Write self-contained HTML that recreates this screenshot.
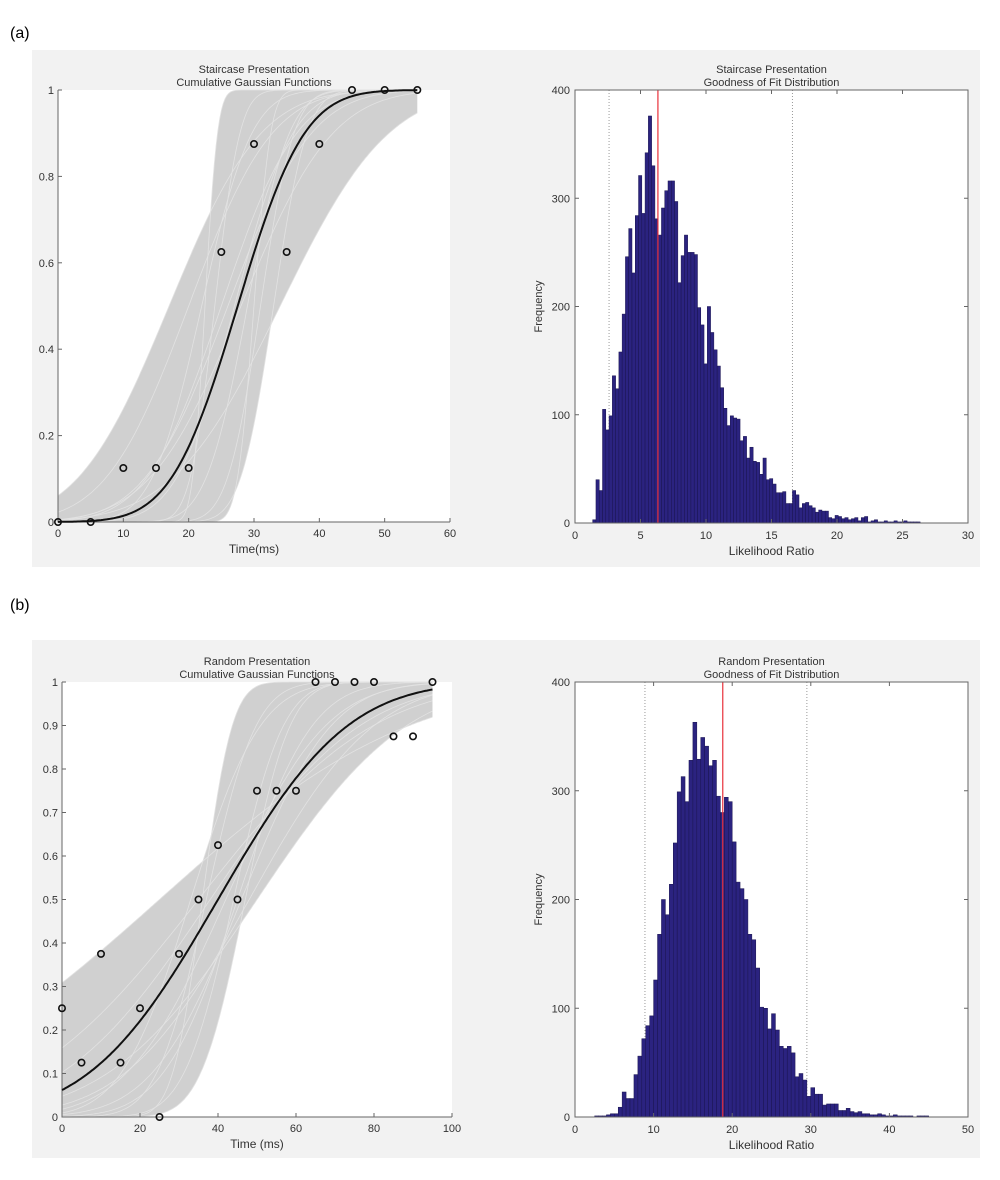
<!DOCTYPE html>
<html><head><meta charset="utf-8"><style>
html,body{margin:0;padding:0;background:#fff;width:1000px;height:1180px;overflow:hidden}
svg{display:block}
text{font-family:"Liberation Sans",Arial,sans-serif;fill:#333}
</style></head><body>
<svg id="fig" width="1000" height="1180" viewBox="0 0 1000 1180"></svg>
<script>
// ---- data ----
const stairPointsX=[0,5,10,15,20,25,30,35,40,45,50,55];
const stairPointsY=[0,0,0.125,0.125,0.125,0.625,0.875,0.625,0.875,1,1,1];
const stairFitMu=27.5, stairFitSigma=8;
const stairBootMu=[22.5,24,22,17,20,30,33,34,29,27,25,31,28,26];
const stairBootSigma=[1.5,3,6,11,10,2,4,13,5,7,9,4,11,10];
const randPointsX=[0,5,10,15,20,25,30,35,40,45,50,55,60,65,70,75,80,85,90,95];
const randPointsY=[0.25,0.125,0.375,0.125,0.25,0,0.375,0.5,0.625,0.5,0.75,0.75,0.75,1,1,1,1,0.875,0.875,1];
const randFitMu=40, randFitSigma=26;
const randBootMu=[25,36,37,44,45,42,38,48,35,50,47,33,46];
const randBootSigma=[50,6,10,10,15,20,30,25,35,30,9,14,18];
const stairHistStart=1.35, stairHistWidth=0.25;
const stairHistCounts=[3,40,30,105,86,99,136,124,158,193,246,272,231,284,321,286,342,376,330,281,266,291,307,316,316,297,222,247,266,250,250,248,199,183,147,200,176,160,145,125,106,90,99,97,96,76,80,60,70,57,56,45,60,40,41,36,28,28,29,18,18,30,26,14,18,19,16,14,10,12,11,11,5,4,7,6,4,5,3,4,5,2,5,6,1,2,3,1,1,2,1,1,2,1,1,2,1,1,1,1];
const stairRedLine=6.33, stairDotLines=[2.6,16.6];
const randHistStart=2.0, randHistWidth=0.5;
const randHistCounts=[0,1,1,1,2,3,3,9,23,17,17,39,56,72,84,93,126,168,200,186,214,252,299,313,290,328,363,329,349,341,323,328,295,280,294,290,253,216,210,200,168,163,137,101,100,81,95,80,65,63,65,59,37,40,34,19,27,21,21,11,12,12,12,6,6,8,5,4,5,3,3,2,2,3,2,1,1,2,1,1,1,1,0,1,1,1];
const randRedLine=18.8, randDotLines=[8.9,29.5];

// ---- helpers ----
const NS="http://www.w3.org/2000/svg";
const svg=document.getElementById('fig');
function el(tag,attrs,parent){const e=document.createElementNS(NS,tag);for(const k in attrs)e.setAttribute(k,attrs[k]);(parent||svg).appendChild(e);return e;}
function txt(s,x,y,attrs,parent){const t=el('text',Object.assign({x:x,y:y},attrs||{}),parent);t.textContent=s;return t;}
function erf(x){const s=x<0?-1:1;x=Math.abs(x);const t=1/(1+0.3275911*x);const y=1-(((((1.061405429*t-1.453152027)*t)+1.421413741)*t-0.284496736)*t+0.254829592)*t*Math.exp(-x*x);return s*y;}
function cdf(x,m,s){return 0.5*(1+erf((x-m)/(s*Math.SQRT2)));}

// backgrounds
const bgA=el('rect',{x:32,y:50,width:948,height:517,fill:'#f2f2f2'});


const bgB=el('rect',{x:32,y:640,width:948,height:518,fill:'#f2f2f2'});


const la=txt('(a)',10,38,{'font-size':16,style:'font-family:"Liberation Sans",sans-serif;fill:#000'});


const lb=txt('(b)',10,610,{'font-size':16,style:'font-family:"Liberation Sans",sans-serif;fill:#000'});



function curvePlot(cfg){
  const g=el('g',{});
  
  
  const X=v=>cfg.x0+(v-cfg.xmin)/(cfg.xmax-cfg.xmin)*(cfg.x1-cfg.x0);
  const Y=v=>cfg.y0-(v)*(cfg.y0-cfg.y1);
  el('rect',{x:cfg.x0,y:cfg.y1,width:cfg.x1-cfg.x0,height:cfg.y0-cfg.y1,fill:'#fff'},g);
  const xs=[];for(let v=0;v<=cfg.xend+1e-9;v+=cfg.xend/200)xs.push(v);
  const up=xs.map(v=>Math.max(...cfg.mu.map((m,i)=>cdf(v,m,cfg.sd[i]))));
  const lo=xs.map(v=>Math.min(...cfg.mu.map((m,i)=>cdf(v,m,cfg.sd[i]))));
  let d='M'+xs.map((v,i)=>X(v).toFixed(1)+','+Y(up[i]).toFixed(1)).join('L');
  for(let i=xs.length-1;i>=0;i--)d+='L'+X(xs[i]).toFixed(1)+','+Y(lo[i]).toFixed(1);
  const band=el('path',{d:d+'Z',fill:'#d0d0d0'},g);
  
  
  cfg.mu.forEach((m,i)=>{
    const p=el('path',{d:'M'+xs.map(v=>X(v).toFixed(1)+','+Y(cdf(v,m,cfg.sd[i])).toFixed(1)).join('L'),fill:'none',stroke:'#e2e2e2','stroke-width':0.8},g);
    
    
  });
  const ax=el('path',{d:`M${cfg.x0},${cfg.y1}V${cfg.y0}H${cfg.x1}`,fill:'none',stroke:'#666','stroke-width':1},g);
  
  
  cfg.yticks.forEach(v=>{
    el('line',{x1:cfg.x0,x2:cfg.x0+4,y1:Y(v),y2:Y(v),stroke:'#666'},g);
    const t=txt(String(v),cfg.x0-4,Y(v)+4,{'font-size':11,'text-anchor':'end'},g);
    
    
  });
  cfg.xticks.forEach(v=>{
    el('line',{x1:X(v),x2:X(v),y1:cfg.y0,y2:cfg.y0-4,stroke:'#666'},g);
    const t=txt(String(v),X(v),cfg.y0+15,{'font-size':11,'text-anchor':'middle'},g);
    
    
  });
  const fit=el('path',{d:'M'+xs.map(v=>X(v).toFixed(1)+','+Y(cdf(v,cfg.fmu,cfg.fsd)).toFixed(1)).join('L'),fill:'none',stroke:'#111','stroke-width':2},g);
  
  
  cfg.px.forEach((v,i)=>{
    const c=el('circle',{cx:X(v),cy:Y(cfg.py[i]),r:3.2,fill:'none',stroke:'#111','stroke-width':1.6},g);
    
    
  });
  const cx=(cfg.x0+cfg.x1)/2;
  const t1=txt(cfg.t1,cx,cfg.y1-17,{'font-size':11,'text-anchor':'middle'},g);
  
  
  const t2=txt(cfg.t2,cx,cfg.y1-4,{'font-size':11,'text-anchor':'middle'},g);
  
  
  const xl=txt(cfg.xlabel,cx,cfg.y0+31,{'font-size':12,'text-anchor':'middle'},g);
  
  
}

function histPlot(cfg){
  const g=el('g',{});
  
  
  const X=v=>cfg.x0+(v-cfg.xmin)/(cfg.xmax-cfg.xmin)*(cfg.x1-cfg.x0);
  const Y=v=>cfg.y0-v/cfg.ymax*(cfg.y0-cfg.y1);
  el('rect',{x:cfg.x0,y:cfg.y1,width:cfg.x1-cfg.x0,height:cfg.y0-cfg.y1,fill:'#fff'},g);
  cfg.dots.forEach(v=>{
    const l=el('line',{x1:X(v),x2:X(v),y1:cfg.y1,y2:cfg.y0,stroke:'#999','stroke-width':1,'stroke-dasharray':'1,2'},g);
    
    
  });
  cfg.counts.forEach((c,i)=>{
    if(c<=0)return;
    const a=cfg.start+i*cfg.w;
    const r=el('rect',{x:X(a),y:Y(c),width:X(a+cfg.w)-X(a),height:cfg.y0-Y(c),fill:'#2b2380',stroke:'#1a1450','stroke-width':0.5},g);
    
    
  });
  const red=el('line',{x1:X(cfg.red),x2:X(cfg.red),y1:cfg.y1,y2:cfg.y0,stroke:'#e8303a','stroke-width':1.2},g);
  
  
  const box=el('rect',{x:cfg.x0,y:cfg.y1,width:cfg.x1-cfg.x0,height:cfg.y0-cfg.y1,fill:'none',stroke:'#666'},g);
  
  
  cfg.yticks.forEach(v=>{
    el('line',{x1:cfg.x0,x2:cfg.x0+4,y1:Y(v),y2:Y(v),stroke:'#666'},g);
    el('line',{x1:cfg.x1,x2:cfg.x1-4,y1:Y(v),y2:Y(v),stroke:'#666'},g);
    const t=txt(String(v),cfg.x0-5,Y(v)+4,{'font-size':11,'text-anchor':'end'},g);
    
    
  });
  cfg.xticks.forEach(v=>{
    el('line',{x1:X(v),x2:X(v),y1:cfg.y0,y2:cfg.y0-4,stroke:'#666'},g);
    el('line',{x1:X(v),x2:X(v),y1:cfg.y1,y2:cfg.y1+4,stroke:'#666'},g);
    const t=txt(String(v),X(v),cfg.y0+16,{'font-size':11,'text-anchor':'middle'},g);
    
    
  });
  const cx=(cfg.x0+cfg.x1)/2;
  const t1=txt(cfg.t1,cx,cfg.y1-17,{'font-size':11,'text-anchor':'middle'},g);
  
  
  const t2=txt(cfg.t2,cx,cfg.y1-4,{'font-size':11,'text-anchor':'middle'},g);
  
  
  const xl=txt('Likelihood Ratio',cx,cfg.y0+32,{'font-size':12,'text-anchor':'middle'},g);
  
  
  const my=(cfg.y0+cfg.y1)/2;
  const yl=txt('Frequency',cfg.x0-33,my,{'font-size':11,'text-anchor':'middle',transform:`rotate(-90 ${cfg.x0-33} ${my})`},g);
  
  
}

curvePlot({name:'staircase-curves-chart',x0:58,x1:450,y0:522,y1:90,xmin:0,xmax:60,xend:55,
  mu:stairBootMu,sd:stairBootSigma,fmu:stairFitMu,fsd:stairFitSigma,px:stairPointsX,py:stairPointsY,
  yticks:[0,0.2,0.4,0.6,0.8,1],xticks:[0,10,20,30,40,50,60],
  t1:'Staircase Presentation',t2:'Cumulative Gaussian Functions',xlabel:'Time(ms)'});
histPlot({name:'staircase-histogram',x0:575,x1:968,y0:523,y1:90,xmin:0,xmax:30,ymax:400,
  start:stairHistStart,w:stairHistWidth,counts:stairHistCounts,red:stairRedLine,dots:stairDotLines,
  yticks:[0,100,200,300,400],xticks:[0,5,10,15,20,25,30],
  t1:'Staircase Presentation',t2:'Goodness of Fit Distribution'});
curvePlot({name:'random-curves-chart',x0:62,x1:452,y0:1117,y1:682,xmin:0,xmax:100,xend:95,
  mu:randBootMu,sd:randBootSigma,fmu:randFitMu,fsd:randFitSigma,px:randPointsX,py:randPointsY,
  yticks:[0,0.1,0.2,0.3,0.4,0.5,0.6,0.7,0.8,0.9,1],xticks:[0,20,40,60,80,100],
  t1:'Random Presentation',t2:'Cumulative Gaussian Functions',xlabel:'Time (ms)'});
histPlot({name:'random-histogram',x0:575,x1:968,y0:1117,y1:682,xmin:0,xmax:50,ymax:400,
  start:randHistStart,w:randHistWidth,counts:randHistCounts,red:randRedLine,dots:randDotLines,
  yticks:[0,100,200,300,400],xticks:[0,10,20,30,40,50],
  t1:'Random Presentation',t2:'Goodness of Fit Distribution'});
</script>
</body></html>
